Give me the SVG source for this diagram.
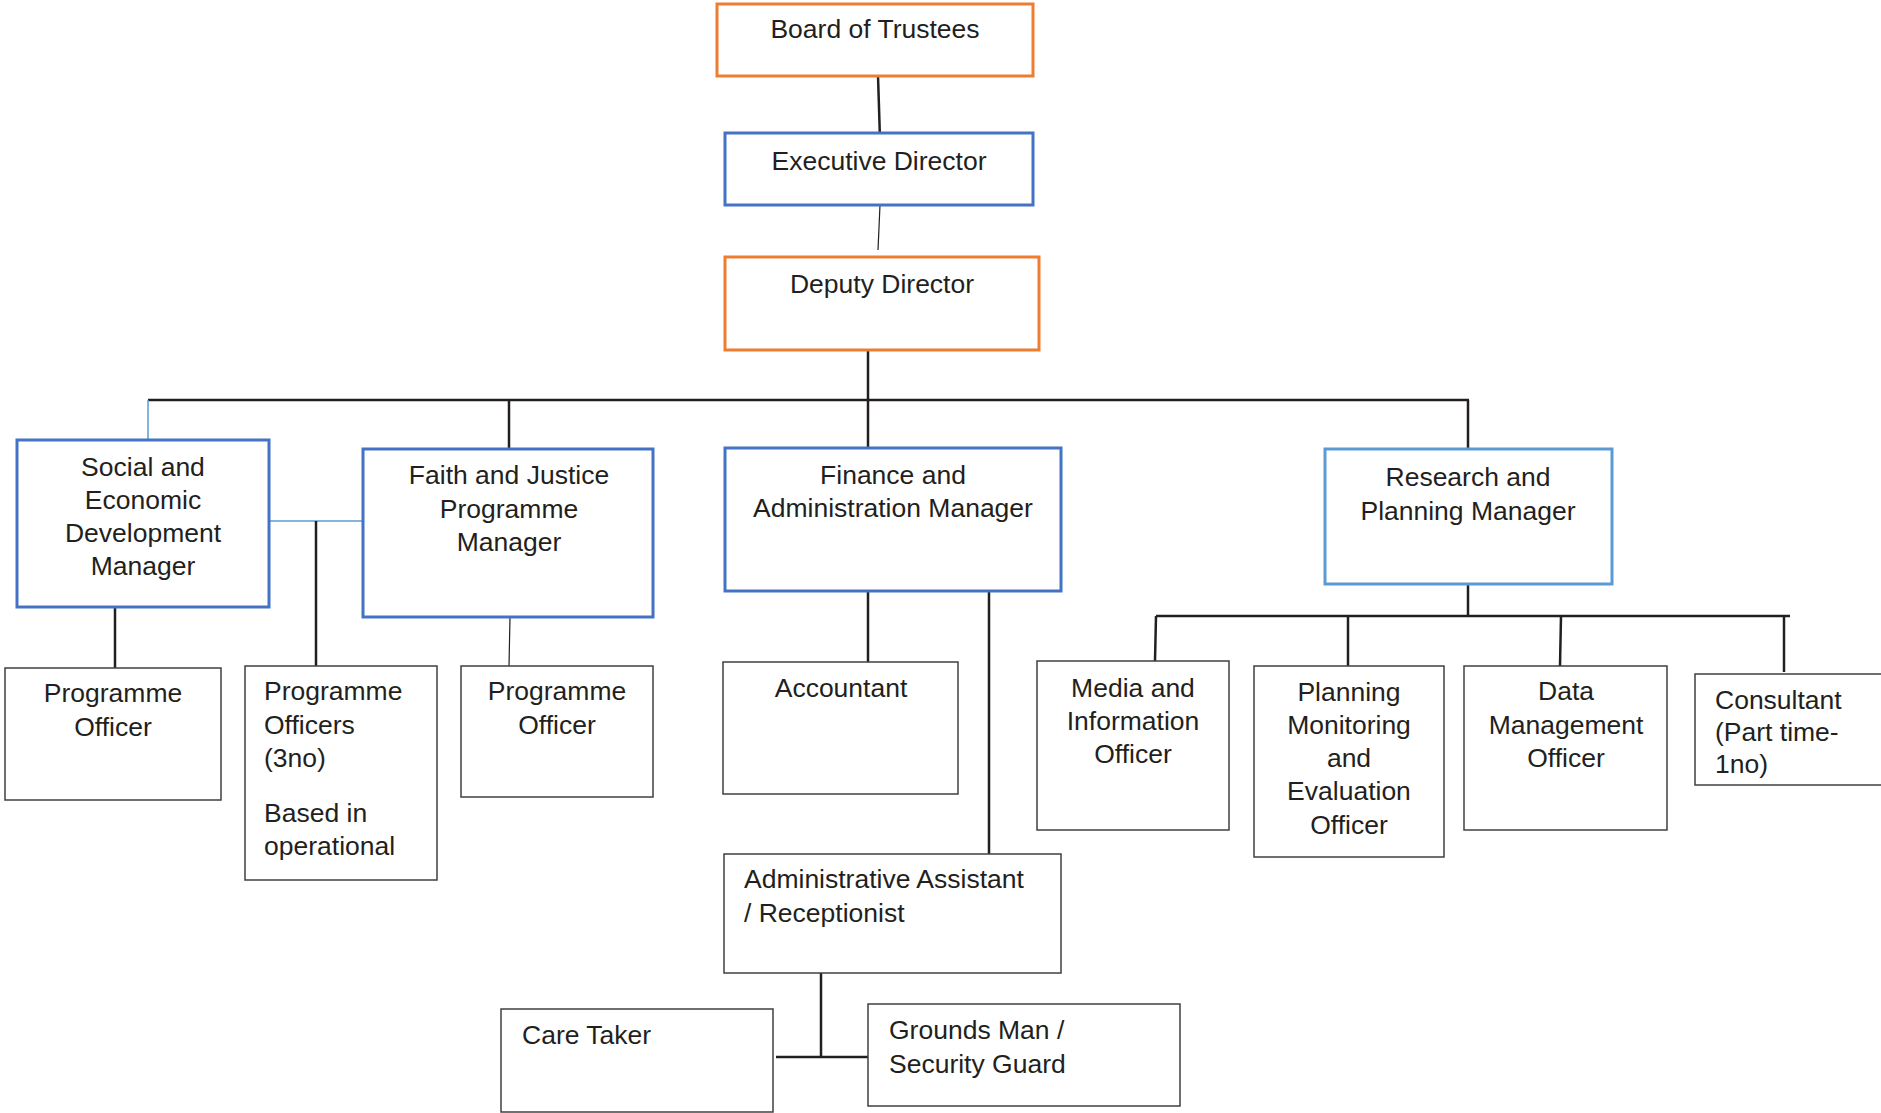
<svg xmlns="http://www.w3.org/2000/svg" width="1881" height="1113" viewBox="0 0 1881 1113">
<style>
text{font-family:"Liberation Sans",Arial,sans-serif;font-size:26.5px;fill:#231F20}
.c{text-anchor:middle}
.or{fill:#fff;stroke:#ED7D31;stroke-width:3}
.bl{fill:#fff;stroke:#4472C4;stroke-width:3}
.lb{fill:#fff;stroke:#5B9BD5;stroke-width:3}
.gr{fill:#fff;stroke:#404040;stroke-width:1.5}
.k{stroke:#231F20;stroke-width:2.5;fill:none}
.kt{stroke:#231F20;stroke-width:1.2;fill:none}
.bt{stroke:#5B9BD5;stroke-width:1.5;fill:none}
</style>
<rect width="1881" height="1113" fill="#fff"/>
<g id="connectors">
<line class="k" x1="878" y1="76" x2="880" y2="139"/>
<line class="kt" x1="880" y1="205" x2="878" y2="250"/>
<line class="k" x1="868" y1="350" x2="868" y2="447"/>
<line class="k" x1="148" y1="400" x2="1469" y2="400"/>
<line class="bt" x1="148" y1="400" x2="148" y2="448"/>
<line class="k" x1="509" y1="400" x2="509" y2="449"/>
<line class="k" x1="1468" y1="400" x2="1468" y2="449"/>
<line class="bt" x1="269" y1="521" x2="363" y2="521"/>
<line class="k" x1="316" y1="521" x2="316" y2="666"/>
<line class="k" x1="115" y1="607" x2="115" y2="668"/>
<line class="kt" x1="510" y1="617" x2="509" y2="666"/>
<line class="k" x1="868" y1="591" x2="868" y2="662"/>
<line class="k" x1="989" y1="591" x2="989" y2="854"/>
<line class="k" x1="821" y1="973" x2="821" y2="1057"/>
<line class="k" x1="776" y1="1057" x2="872" y2="1057"/>
<line class="k" x1="1468" y1="569" x2="1468" y2="616"/>
<line class="k" x1="1156" y1="616" x2="1790" y2="616"/>
<line class="k" x1="1156" y1="616" x2="1155" y2="661"/>
<line class="k" x1="1348" y1="616" x2="1348" y2="666"/>
<line class="k" x1="1561" y1="616" x2="1560" y2="666"/>
<line class="k" x1="1784" y1="616" x2="1784" y2="672"/>
</g>
<g id="board"><rect class="or" x="717" y="4" width="316" height="72"/><text class="c" x="875" y="38">Board of Trustees</text></g>
<g id="exec"><rect class="bl" x="725" y="133" width="308" height="72"/><text class="c" x="879" y="170">Executive Director</text></g>
<g id="deputy"><rect class="or" x="725" y="257" width="314" height="93"/><text class="c" x="882" y="293">Deputy Director</text></g>
<g id="social"><rect class="bl" x="17" y="440" width="252" height="167"/><text class="c" x="143" y="476">Social and</text><text class="c" x="143" y="509">Economic</text><text class="c" x="143" y="542">Development</text><text class="c" x="143" y="575">Manager</text></g>
<g id="faith"><rect class="bl" x="363" y="449" width="290" height="168"/><text class="c" x="509" y="484">Faith and Justice</text><text class="c" x="509" y="518">Programme</text><text class="c" x="509" y="551">Manager</text></g>
<g id="finance"><rect class="bl" x="725" y="448" width="336" height="143"/><text class="c" x="893" y="484">Finance and</text><text class="c" x="893" y="517">Administration Manager</text></g>
<g id="research"><rect class="lb" x="1325" y="449" width="287" height="135"/><text class="c" x="1468" y="486">Research and</text><text class="c" x="1468" y="520">Planning Manager</text></g>
<g id="po1"><rect class="gr" x="5" y="668" width="216" height="132"/><text class="c" x="113" y="702">Programme</text><text class="c" x="113" y="736">Officer</text></g>
<g id="po3"><rect class="gr" x="245" y="666" width="192" height="214"/><text x="264" y="700">Programme</text><text x="264" y="734">Officers</text><text x="264" y="767">(3no)</text><text x="264" y="822">Based in</text><text x="264" y="855">operational</text></g>
<g id="po2"><rect class="gr" x="461" y="666" width="192" height="131"/><text class="c" x="557" y="700">Programme</text><text class="c" x="557" y="734">Officer</text></g>
<g id="accountant"><rect class="gr" x="723" y="662" width="235" height="132"/><text class="c" x="841" y="697">Accountant</text></g>
<g id="admin"><rect class="gr" x="724" y="854" width="337" height="119"/><text x="744" y="888">Administrative Assistant</text><text x="744" y="922">/ Receptionist</text></g>
<g id="caretaker"><rect class="gr" x="501" y="1009" width="272" height="103"/><text x="522" y="1044">Care Taker</text></g>
<g id="grounds"><rect class="gr" x="868" y="1004" width="312" height="102"/><text x="889" y="1039">Grounds Man /</text><text x="889" y="1073">Security Guard</text></g>
<g id="media"><rect class="gr" x="1037" y="661" width="192" height="169"/><text class="c" x="1133" y="697">Media and</text><text class="c" x="1133" y="730">Information</text><text class="c" x="1133" y="763">Officer</text></g>
<g id="pme"><rect class="gr" x="1254" y="666" width="190" height="191"/><text class="c" x="1349" y="701">Planning</text><text class="c" x="1349" y="734">Monitoring</text><text class="c" x="1349" y="767">and</text><text class="c" x="1349" y="800">Evaluation</text><text class="c" x="1349" y="834">Officer</text></g>
<g id="data"><rect class="gr" x="1464" y="666" width="203" height="164"/><text class="c" x="1566" y="700">Data</text><text class="c" x="1566" y="734">Management</text><text class="c" x="1566" y="767">Officer</text></g>
<g id="consultant"><rect class="gr" x="1695" y="674" width="190" height="111"/><text x="1715" y="709">Consultant</text><text x="1715" y="741">(Part time-</text><text x="1715" y="773">1no)</text></g>
</svg>
